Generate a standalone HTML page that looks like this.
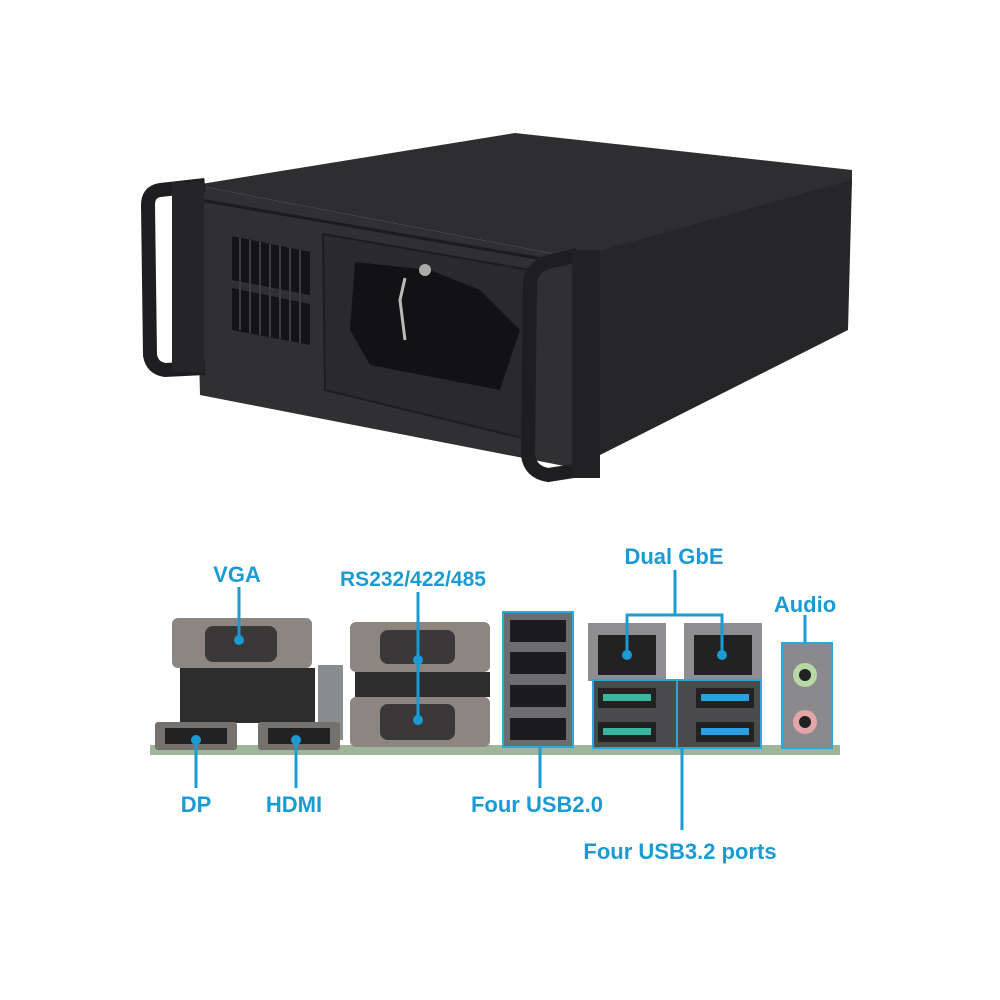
<!DOCTYPE html>
<html><head><meta charset="utf-8"><style>
html,body{margin:0;padding:0;background:#fff;}
svg{display:block}
text{font-family:"Liberation Sans",sans-serif;font-weight:bold;fill:#1b9bd3;}
</style></head><body>
<svg width="1000" height="1000" viewBox="0 0 1000 1000" xmlns="http://www.w3.org/2000/svg">
<rect width="1000" height="1000" fill="#fff"/>
<polygon points="195,185 515,133 852,170 852,185 585,255 560,255" fill="#2e2e30"/>
<polygon points="585,255 852,180 848,330 600,455" fill="#262628"/>
<polygon points="195,185 560,255 585,255 585,470 200,395" fill="#303033"/>
<line x1="200" y1="200" x2="560" y2="262" stroke="#1c1c1e" stroke-width="3"/>
<g fill="#141416">
<polygon points="232,236 310,252 310,295 232,280"/>
<polygon points="232,288 310,304 310,345 232,330"/>
</g>
<g stroke="#3c3c3f" stroke-width="2">
<line x1="240" y1="238" x2="240" y2="330"/><line x1="250" y1="240" x2="250" y2="333"/><line x1="260" y1="242" x2="260" y2="335"/><line x1="270" y1="244" x2="270" y2="337"/><line x1="280" y1="246" x2="280" y2="339"/><line x1="290" y1="248" x2="290" y2="341"/><line x1="300" y1="250" x2="300" y2="343"/>
</g>
<polygon points="323,234 530,270 530,440 325,390" fill="#2a2a2c" stroke="#1d1d1f" stroke-width="2"/>
<polygon points="355,262 430,270 480,290 520,330 500,390 370,365 350,330" fill="#121214"/>
<circle cx="425" cy="270" r="6" fill="#aaa"/>
<path d="M405,278 L400,300 L405,340" stroke="#bbb" stroke-width="3" fill="none"/>
<path d="M205,185 L160,190 Q148,192 148,205 L150,355 Q152,368 165,370 L205,368" fill="none" stroke="#1e1e20" stroke-width="14"/>
<rect x="172" y="182" width="32" height="190" fill="#252527"/>
<path d="M578,255 L548,262 Q530,268 530,285 L528,455 Q530,472 548,475 L580,470" fill="none" stroke="#1e1e20" stroke-width="14"/>
<rect x="572" y="250" width="28" height="228" fill="#222224"/>
<rect x="150" y="745" width="690" height="10" fill="#9fb59a"/>
<rect x="172" y="618" width="140" height="50" rx="6" fill="#8c8580"/>
<rect x="205" y="626" width="72" height="36" rx="8" fill="#3a3838"/>
<rect x="180" y="668" width="135" height="55" fill="#2e2d2d"/>
<rect x="318" y="665" width="25" height="75" fill="#8a8d8e"/>
<rect x="155" y="722" width="82" height="28" rx="3" fill="#77716d"/>
<rect x="165" y="728" width="62" height="16" fill="#222"/>
<rect x="258" y="722" width="82" height="28" rx="3" fill="#77716d"/>
<rect x="268" y="728" width="62" height="16" fill="#222"/>
<rect x="350" y="622" width="140" height="50" rx="6" fill="#8c8580"/>
<rect x="380" y="630" width="75" height="34" rx="8" fill="#3a3838"/>
<rect x="355" y="672" width="135" height="25" fill="#2e2d2d"/>
<rect x="350" y="697" width="140" height="50" rx="6" fill="#8c8580"/>
<rect x="380" y="704" width="75" height="36" rx="8" fill="#3a3838"/>
<rect x="503" y="612" width="70" height="135" fill="#6d6d70"/>
<rect x="510" y="620" width="56" height="22" fill="#1c1c1e"/>
<rect x="510" y="652" width="56" height="22" fill="#1c1c1e"/>
<rect x="510" y="685" width="56" height="22" fill="#1c1c1e"/>
<rect x="510" y="718" width="56" height="22" fill="#1c1c1e"/>
<rect x="503" y="612" width="70" height="135" fill="none" stroke="#2aa8d8" stroke-width="2"/>
<rect x="588" y="623" width="78" height="58" fill="#8e8e90"/>
<rect x="598" y="635" width="58" height="40" fill="#222"/>
<rect x="684" y="623" width="78" height="58" fill="#8e8e90"/>
<rect x="694" y="635" width="58" height="40" fill="#222"/>
<rect x="593" y="680" width="168" height="68" fill="#4b4b4d"/>
<rect x="598" y="688" width="58" height="20" fill="#222"/><rect x="603" y="694" width="48" height="7" fill="#3bb5a0"/>
<rect x="598" y="722" width="58" height="20" fill="#222"/><rect x="603" y="728" width="48" height="7" fill="#3bb5a0"/>
<rect x="696" y="688" width="58" height="20" fill="#222"/><rect x="701" y="694" width="48" height="7" fill="#2e9ee0"/>
<rect x="696" y="722" width="58" height="20" fill="#222"/><rect x="701" y="728" width="48" height="7" fill="#2e9ee0"/>
<rect x="593" y="680" width="168" height="68" fill="none" stroke="#2aa8d8" stroke-width="2"/>
<line x1="677" y1="680" x2="677" y2="748" stroke="#2aa8d8" stroke-width="2"/>
<rect x="782" y="643" width="50" height="105" fill="#8a8a8c" stroke="#2aa8d8" stroke-width="2"/>
<circle cx="805" cy="675" r="12" fill="#b9d8a8"/><circle cx="805" cy="675" r="6" fill="#222"/>
<circle cx="805" cy="722" r="12" fill="#e2a5a8"/><circle cx="805" cy="722" r="6" fill="#222"/>
<g stroke="#1b9bd3" stroke-width="3" fill="none">
<line x1="239" y1="587" x2="239" y2="640"/>
<line x1="418" y1="592" x2="418" y2="720"/>
<polyline points="627,655 627,615 722,615 722,655"/>
<line x1="675" y1="570" x2="675" y2="615"/>
<line x1="805" y1="615" x2="805" y2="643"/>
<line x1="196" y1="740" x2="196" y2="788"/>
<line x1="296" y1="740" x2="296" y2="788"/>
<line x1="540" y1="747" x2="540" y2="788"/>
<line x1="682" y1="748" x2="682" y2="830"/>
</g>
<g fill="#1b9bd3"><circle cx="239" cy="640" r="5"/><circle cx="418" cy="660" r="5"/><circle cx="418" cy="720" r="5"/><circle cx="627" cy="655" r="5"/><circle cx="722" cy="655" r="5"/><circle cx="196" cy="740" r="5"/><circle cx="296" cy="740" r="5"/></g>
<text x="237" y="582" font-size="22" text-anchor="middle">VGA</text>
<text x="413" y="586" font-size="21" text-anchor="middle">RS232/422/485</text>
<text x="674" y="564" font-size="22" text-anchor="middle">Dual GbE</text>
<text x="805" y="612" font-size="22" text-anchor="middle">Audio</text>
<text x="196" y="812" font-size="22" text-anchor="middle">DP</text>
<text x="294" y="812" font-size="22" text-anchor="middle">HDMI</text>
<text x="537" y="812" font-size="22" text-anchor="middle">Four USB2.0</text>
<text x="680" y="859" font-size="22" text-anchor="middle">Four USB3.2 ports</text>
</svg>
</body></html>
